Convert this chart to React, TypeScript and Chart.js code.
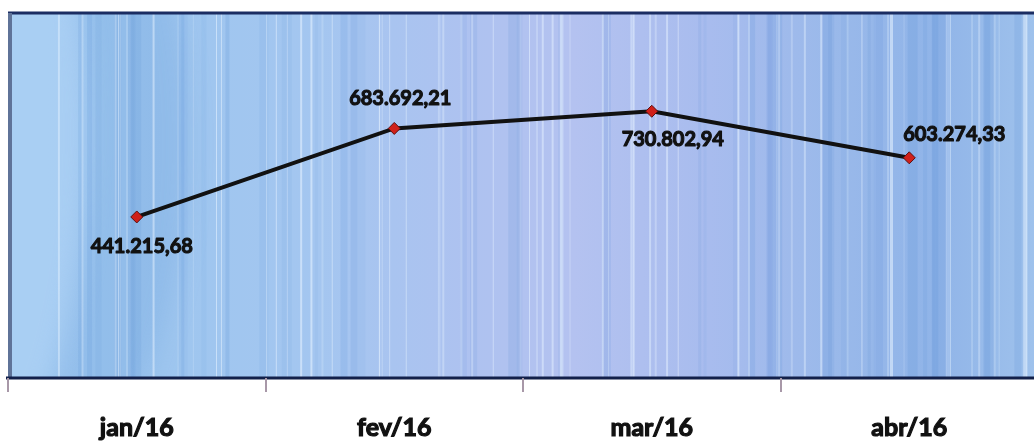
import React, { useEffect, useRef } from "react";
import { Chart, registerables } from "chart.js";

Chart.register(...registerables);

const categories = ["jan/16", "fev/16", "mar/16", "abr/16"];
const values = [441215.68, 683692.21, 730802.94, 603274.33];
const valueLabels = ["441.215,68", "683.692,21", "730.802,94", "603.274,33"];
const labelOffsets = [
  [5, 30],
  [6, -30],
  [21, 28],
  [45, -23],
];

function stripeHash(i: number) {
  const s = Math.sin(i * 12.9898 + 78.233) * 43758.5453;
  return s - Math.floor(s);
}

const backgroundPlugin = {
  id: "plotBg",
  beforeDraw(chart: any) {
    const { ctx, chartArea } = chart;
    const { left, top, right, bottom } = chartArea;
    const w = right - left;
    const h = bottom - top;
    ctx.save();
    const g = ctx.createLinearGradient(left, 0, right, 0);
    g.addColorStop(0, "#a6cef3");
    g.addColorStop(0.15, "#9ec6ef");
    g.addColorStop(0.3, "#a4c6f0");
    g.addColorStop(0.45, "#aec2f0");
    g.addColorStop(0.55, "#b4c2f0");
    g.addColorStop(0.68, "#a8bcee");
    g.addColorStop(0.8, "#9ab9ea");
    g.addColorStop(0.9, "#90b4e8");
    g.addColorStop(1, "#9fc2ec");
    ctx.fillStyle = g;
    ctx.fillRect(left, top, w, h);
    ctx.save();
    ctx.beginPath();
    ctx.rect(left, top, w, h);
    ctx.clip();
    // darker curved band on left with lighter area inside
    ctx.filter = "blur(12px)";
    ctx.fillStyle = "rgba(95,150,215,0.22)";
    ctx.beginPath();
    ctx.ellipse(left - 60, top + 130, 240, 420, 0, 0, Math.PI * 2);
    ctx.fill();
    ctx.fillStyle = "rgba(185,218,250,0.55)";
    ctx.beginPath();
    ctx.ellipse(left - 90, top + 120, 170, 400, 0, 0, Math.PI * 2);
    ctx.fill();
    ctx.filter = "none";
    // broad soft bands
    for (let i = 0; i < 45; i++) {
      const x = left + 60 + stripeHash(i + 2000) * (w - 60);
      const bw = 3 + Math.floor(stripeHash(i + 2500) * 8);
      const a = 0.05 + stripeHash(i + 3000) * 0.12;
      ctx.fillStyle = `rgba(80,135,210,${a})`;
      ctx.fillRect(x, top, bw, h);
    }
    // thin light lines
    for (let i = 0; i < 70; i++) {
      const x = left + 30 + stripeHash(i) * (w - 30);
      const bw = 1 + Math.floor(stripeHash(i + 500) * 2);
      const a = 0.2 + stripeHash(i + 1500) * 0.4;
      ctx.fillStyle = `rgba(230,242,255,${a})`;
      ctx.fillRect(x, top, bw, h);
    }
    ctx.restore();
    // border
    ctx.strokeStyle = "#1b2d62";
    ctx.lineWidth = 3;
    ctx.beginPath();
    ctx.moveTo(right + 5, top);
    ctx.lineTo(left, top);
    ctx.stroke();
    ctx.strokeStyle = "#5f7398";
    ctx.lineWidth = 4;
    ctx.beginPath();
    ctx.moveTo(left + 2, top);
    ctx.lineTo(left + 2, bottom);
    ctx.stroke();
    ctx.strokeStyle = "#12204a";
    ctx.lineWidth = 3;
    ctx.beginPath();
    ctx.moveTo(left - 2, bottom);
    ctx.lineTo(right + 5, bottom);
    ctx.stroke();
    ctx.restore();
  },
};

const labelPlugin = {
  id: "valueLabels",
  afterDatasetsDraw(chart: any) {
    const { ctx } = chart;
    const meta = chart.getDatasetMeta(0);
    ctx.save();
    ctx.font = "bold 20px Lato";
    ctx.fillStyle = "#111111";
    ctx.strokeStyle = "#111111";
    ctx.lineWidth = 1.1;
    ctx.lineJoin = "round";
    ctx.textAlign = "center";
    ctx.textBaseline = "middle";
    meta.data.forEach((pt: any, i: number) => {
      const [dx, dy] = labelOffsets[i];
      ctx.strokeText(valueLabels[i], pt.x + dx, pt.y + dy);
      ctx.fillText(valueLabels[i], pt.x + dx, pt.y + dy);
    });
    ctx.restore();
  },
};

export default function App() {
  const ref = useRef<HTMLCanvasElement>(null);
  useEffect(() => {
    if (!ref.current) return;
    const chart = new Chart(ref.current, {
      type: "line",
      data: {
        labels: categories,
        datasets: [
          {
            data: values,
            borderColor: "#111111",
            borderWidth: 4,
            pointStyle: "rectRot",
            pointRadius: 6,
            pointBackgroundColor: "#d0201a",
            pointBorderColor: "#5a1010",
            pointBorderWidth: 1,
            tension: 0,
          },
        ],
      },
      options: {
        animation: false,
        responsive: false,
        maintainAspectRatio: false,
        layout: { padding: { top: 13, left: 8, right: 5, bottom: 3 } },
        plugins: { legend: { display: false }, tooltip: { enabled: false } },
        scales: {
          x: {
            offset: true,
            afterFit: (scale: any) => {
              scale.height = 67;
            },
            grid: {
              offset: true,
              drawOnChartArea: false,
              drawTicks: true,
              tickLength: 14,
              color: "#a898a8",
              lineWidth: 2,
            },
            border: { display: false },
            ticks: {
              font: { family: "Lato", weight: "bold", size: 25 },
              color: "#111111",
              textStrokeColor: "#111111",
              textStrokeWidth: 1.2,
              padding: 21,
              maxRotation: 0,
            },
          },
          y: { display: false, min: 0, max: 1000000 },
        },
      },
      plugins: [backgroundPlugin, labelPlugin],
    });
    return () => chart.destroy();
  }, []);
  return (
    <div style={{ position: "fixed", left: 0, top: 0, width: 1034, height: 448, overflow: "hidden", background: "#ffffff" }}>
      <canvas ref={ref} width={1045} height={448} style={{ width: 1045, height: 448, display: "block" }} />
    </div>
  );
}
